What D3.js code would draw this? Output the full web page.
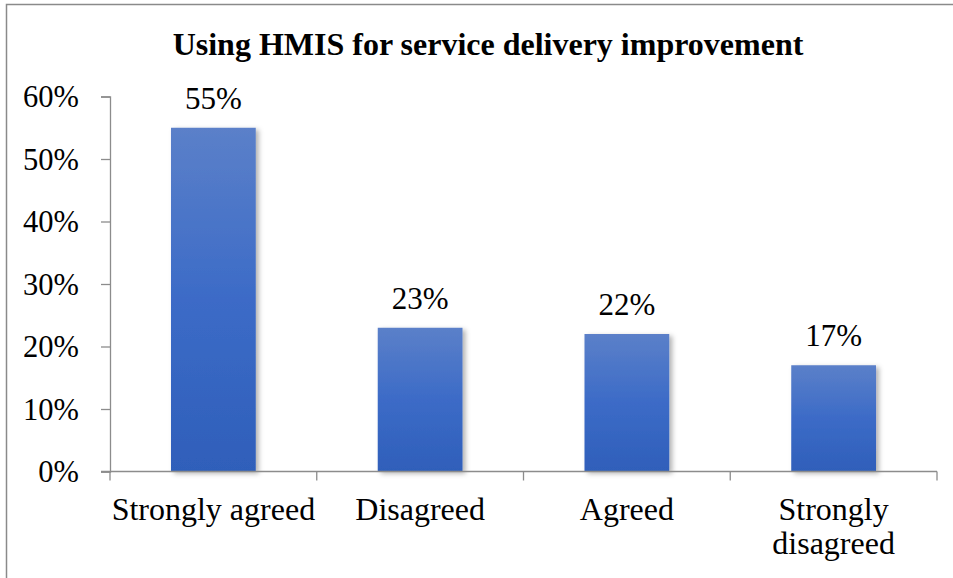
<!DOCTYPE html>
<html>
<head>
<meta charset="utf-8">
<script src="https://cdn.jsdelivr.net/npm/d3@7"></script>
<style>
  html, body { margin: 0; padding: 0; background: #fff; }
  svg { display: block; }
</style>
</head>
<body>
<svg id="chart" width="953" height="578"></svg>
<script>
// Survey responses: share of respondents per answer
const categories = ["Strongly agreed", "Disagreed", "Agreed", "Strongly disagreed"];
const values = [55, 23, 22, 17];
const yTicks = [0, 10, 20, 30, 40, 50, 60];
const title = "Using HMIS for service delivery improvement";

const svg = d3.select("#chart");
const W = 953, H = 578;
const margin = { left: 110 };
const plotW = 937 - margin.left;
const plotTop = 96.5, plotBottom = 471.5;
const font = "'Liberation Serif', 'Times New Roman', serif";

// outer frame of the chart area
svg.append("rect")
  .attr("x", 6.5).attr("y", 4.5)
  .attr("width", W + 10).attr("height", H + 10)
  .attr("fill", "#fff")
  .attr("stroke", "#8a8a8a").attr("stroke-width", 1.5);

const defs = svg.append("defs");
const grad = defs.append("linearGradient")
  .attr("id", "barFill").attr("x1", 0).attr("y1", 0).attr("x2", 0).attr("y2", 1);
grad.append("stop").attr("offset", "0%").attr("stop-color", "#5b80c9");
grad.append("stop").attr("offset", "50%").attr("stop-color", "#3c6bc7");
grad.append("stop").attr("offset", "100%").attr("stop-color", "#2f5fba");

const shadow = defs.append("filter").attr("id", "barShadow")
  .attr("x", "-20%").attr("y", "-10%").attr("width", "140%").attr("height", "120%");
shadow.append("feDropShadow")
  .attr("dx", 3).attr("dy", 2).attr("stdDeviation", 2.5)
  .attr("flood-color", "#000").attr("flood-opacity", 0.3);

const x = d3.scaleBand()
  .domain(categories)
  .range([margin.left, margin.left + plotW])
  .paddingInner(0.59).paddingOuter(0.295);

const y = d3.scaleLinear().domain([0, 60]).range([plotBottom, plotTop]);

// title
svg.append("text")
  .attr("x", 488).attr("y", 55)
  .attr("text-anchor", "middle")
  .attr("font-family", font).attr("font-weight", "bold").attr("font-size", 32)
  .attr("fill", "#000")
  .text(title);

// bars
svg.append("g").selectAll("rect")
  .data(values)
  .join("rect")
  .attr("x", (d, i) => x(categories[i]))
  .attr("y", d => y(d))
  .attr("width", x.bandwidth())
  .attr("height", d => y(0) - y(d))
  .attr("fill", "url(#barFill)")
  .attr("filter", "url(#barShadow)");

// value labels
svg.append("g").selectAll("text")
  .data(values)
  .join("text")
  .attr("x", (d, i) => x(categories[i]) + x.bandwidth() / 2)
  .attr("y", d => y(d) - 19)
  .attr("text-anchor", "middle")
  .attr("font-family", font).attr("font-size", 31)
  .attr("fill", "#000")
  .text(d => d + "%");

// y axis
const yAxis = d3.axisLeft(y)
  .tickValues(yTicks)
  .tickFormat(d => d + "%")
  .tickSize(9).tickPadding(22);
const gy = svg.append("g").attr("transform", `translate(${margin.left},0)`).call(yAxis);
gy.select(".domain").attr("stroke", "#8c8c8c").attr("stroke-width", 1.3);
gy.selectAll(".tick line").attr("stroke", "#8c8c8c").attr("stroke-width", 1.3);
gy.selectAll(".tick text")
  .attr("font-family", font).attr("font-size", 30.5).attr("fill", "#000")
  .attr("dy", "0.33em");

// x axis with boundary ticks between categories
const gx = svg.append("g");
gx.append("line")
  .attr("x1", margin.left - 9).attr("x2", margin.left + plotW)
  .attr("y1", y(0)).attr("y2", y(0))
  .attr("stroke", "#8c8c8c").attr("stroke-width", 1.3);
const step = plotW / categories.length;
gx.selectAll("line.tick")
  .data(d3.range(categories.length + 1))
  .join("line")
  .attr("class", "tick")
  .attr("x1", i => margin.left + i * step).attr("x2", i => margin.left + i * step)
  .attr("y1", y(0)).attr("y2", y(0) + 9)
  .attr("stroke", "#8c8c8c").attr("stroke-width", 1.3);

// category labels, wrapped where the band is too narrow
const wrapped = { "Strongly disagreed": ["Strongly", "disagreed"] };
gx.selectAll("text")
  .data(categories)
  .join("text")
  .attr("x", d => x(d) + x.bandwidth() / 2)
  .attr("y", 520)
  .attr("text-anchor", "middle")
  .attr("font-family", font).attr("font-size", 32).attr("fill", "#000")
  .each(function(d) {
    const lines = wrapped[d] || [d];
    const t = d3.select(this);
    lines.forEach((ln, k) => {
      t.append("tspan")
        .attr("x", x(d) + x.bandwidth() / 2)
        .attr("dy", k === 0 ? 0 : 34)
        .text(ln);
    });
  });
</script>
</body>
</html>
